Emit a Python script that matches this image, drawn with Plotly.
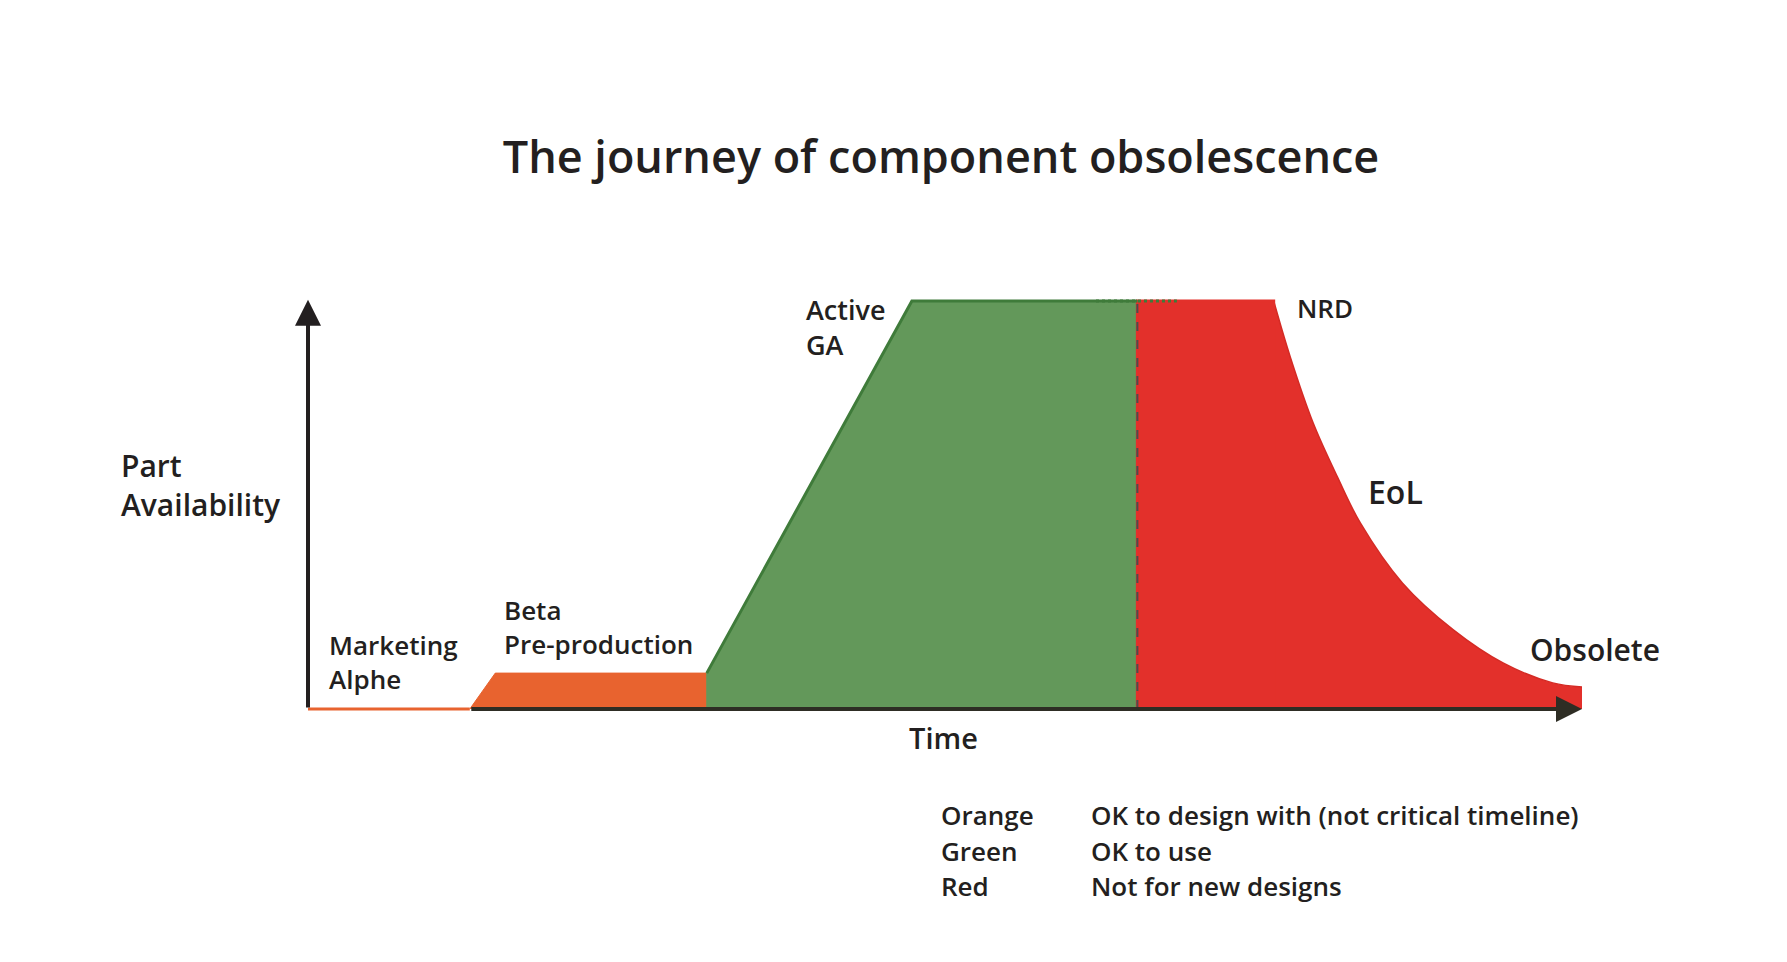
import plotly.graph_objects as go

# ---- data (time units 0-100, availability 0-100) ----
orange_x = [12.7, 14.7, 31.3, 31.3]
orange_y = [0, 8.8, 8.8, 0]

green_x = [31.3, 31.3, 47.4, 65.1, 65.1]
green_y = [0, 8.8, 100, 100, 0]

red_block_x = [65.1, 65.1, 75.8, 75.8]
red_block_y = [0, 100, 100, 0]
red_curve_x = [75.8, 77.1, 78.9, 80.8, 82.6, 85.9, 89.9, 93.8, 97.7, 100.0]
red_curve_y = [100, 86.3, 70.1, 56.9, 45.6, 30.9, 19.4, 11.3, 6.4, 5.4]

nrd_x = 65.1
dotted_x = [61.85, 68.2]
dotted_y = [100, 100]

stage_labels = ["Marketing<br>Alphe", "Beta<br>Pre-production", "Active<br>GA", "NRD", "EoL", "Obsolete"]
stage_x = [1.5, 15.24, 38.95, 77.5, 83.04, 95.74]
stage_y = [11.4, 20.1, 93.7, 98.3, 53.2, 14.7]
stage_size = [26, 26, 27, 26, 32, 30]

legend_colors = ["Orange", "Green", "Red"]
legend_text = ["OK to design with (not critical timeline)", "OK to use", "Not for new designs"]
legend_y = [-25.9, -34.7, -43.3]

title = "The journey of component obsolescence"

# ---- pixel mapping for layout ----
W, H = 1787, 962
px_x0, px_x100 = 300, 1574
px_y0, px_y100 = 701, 293
sx = (px_x100 - px_x0) / 100.0
sy = (px_y0 - px_y100) / 100.0
xr = [-px_x0 / sx, (W - px_x0) / sx]
yr = [-(H - px_y0) / sy, px_y0 / sy]

TXT = "#231f20"
FONT = "Open Sans"
ORANGE = "#e8632f"
GREEN = "#63985a"
GREEN_EDGE = "#3f7b3a"
RED = "#e3302b"

fig = go.Figure()

fig.add_trace(go.Scatter(x=orange_x, y=orange_y, fill="toself", fillcolor=ORANGE,
                         line=dict(color=ORANGE, width=1), mode="lines", hoverinfo="skip"))
fig.add_trace(go.Scatter(x=green_x, y=green_y, fill="toself", fillcolor=GREEN,
                         line=dict(color=GREEN, width=1), mode="lines", hoverinfo="skip"))
fig.add_trace(go.Scatter(x=red_curve_x, y=red_curve_y, fill="tozeroy", fillcolor=RED,
                         line=dict(color="#d42b25", width=1.5, shape="spline", smoothing=1.0),
                         mode="lines", hoverinfo="skip"))
fig.add_trace(go.Scatter(x=red_block_x, y=red_block_y, fill="toself", fillcolor=RED,
                         line=dict(color=RED, width=3), mode="lines", hoverinfo="skip"))
# green edge (slope + top)
fig.add_trace(go.Scatter(x=green_x[1:4] + [dotted_x[0]], y=green_y[1:4] + [dotted_y[0]],
                         line=dict(color=GREEN_EDGE, width=3), mode="lines", hoverinfo="skip"))
fig.add_trace(go.Scatter(x=dotted_x, y=dotted_y, line=dict(color=GREEN_EDGE, width=3, dash="dot"),
                         mode="lines", hoverinfo="skip"))
# dashed divider
fig.add_trace(go.Scatter(x=[nrd_x, nrd_x], y=[0, 100], line=dict(color="#4d4d4d", width=2, dash="dash"),
                         mode="lines", hoverinfo="skip"))
# orange baseline before beta
fig.add_trace(go.Scatter(x=[0, orange_x[0]], y=[0, 0], line=dict(color=ORANGE, width=3),
                         mode="lines", hoverinfo="skip"))

annotations = []
# axes arrows
annotations.append(dict(x=0, y=100.3, ax=0, ay=0, xref="x", yref="y", axref="x", ayref="y",
                        showarrow=True, arrowhead=2, arrowsize=1.3, arrowwidth=4, arrowcolor="#231f20", text=""))
annotations.append(dict(x=100.0, y=0, ax=orange_x[0], ay=0, xref="x", yref="y", axref="x", ayref="y",
                        showarrow=True, arrowhead=2, arrowsize=1.3, arrowwidth=4, arrowcolor="#2e2d24", text=""))

for t, x, y, s in zip(stage_labels, stage_x, stage_y, stage_size):
    annotations.append(dict(x=x, y=y, xref="x", yref="y", text=t, showarrow=False, xanchor="left",
                            yanchor="middle", align="left",
                            font=dict(family=FONT, size=s, color=TXT, weight=600)))

annotations.append(dict(x=-14.87, y=54.9, xref="x", yref="y", text="Part<br>Availability", showarrow=False,
                        xanchor="left", yanchor="middle", align="left",
                        font=dict(family=FONT, size=30, color=TXT, weight=600)))
annotations.append(dict(x=49.9, y=-6.9, xref="x", yref="y", text="Time", showarrow=False,
                        xanchor="center", yanchor="middle",
                        font=dict(family=FONT, size=29, color=TXT, weight=600)))

for c, d, y in zip(legend_colors, legend_text, legend_y):
    annotations.append(dict(x=49.56, y=y, xref="x", yref="y", text=c, showarrow=False, xanchor="left",
                            yanchor="middle", font=dict(family=FONT, size=26, color=TXT, weight=600)))
    annotations.append(dict(x=61.27, y=y, xref="x", yref="y", text=d, showarrow=False, xanchor="left",
                            yanchor="middle", font=dict(family=FONT, size=26, color=TXT, weight=600)))

fig.update_layout(
    width=W, height=H, autosize=False,
    margin=dict(l=0, r=0, t=0, b=0),
    paper_bgcolor="white", plot_bgcolor="white",
    showlegend=False,
    title=dict(text=title, x=933 / W, xanchor="center", y=1 - 149 / H, yanchor="middle",
               font=dict(family=FONT, size=45, color=TXT, weight=600)),
    xaxis=dict(range=xr, visible=False, fixedrange=True),
    yaxis=dict(range=yr, visible=False, fixedrange=True),
    annotations=annotations,
)

fig.write_html("out.html")
